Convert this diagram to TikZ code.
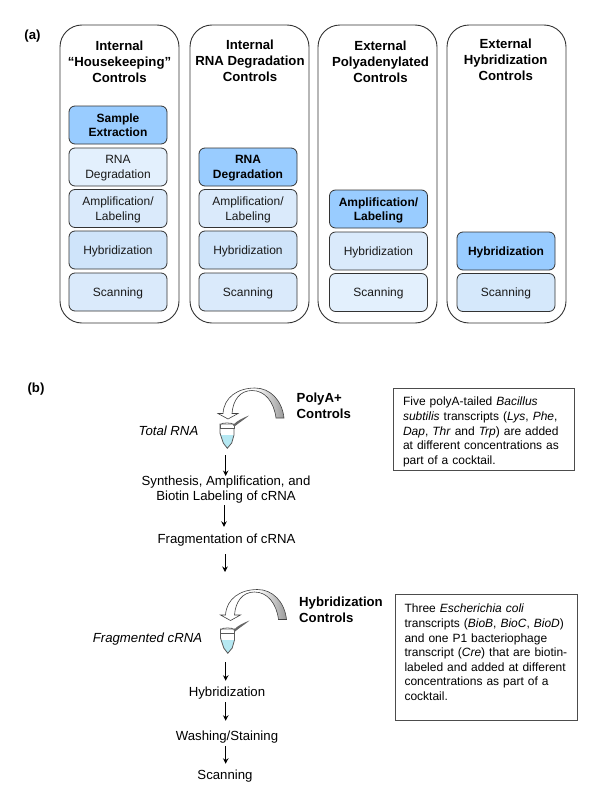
\documentclass[tikz,border=0pt]{standalone}
\usepackage{fontspec}
\setmainfont{Liberation Sans}
\usetikzlibrary{arrows.meta}
\definecolor{edge}{HTML}{333333}
\definecolor{hot}{HTML}{99CCFF}
\definecolor{paleA}{HTML}{E3F0FD}
\definecolor{paleB}{HTML}{DAEAFB}
\definecolor{paleC}{HTML}{CFE4FA}
\definecolor{liquid}{HTML}{B5E8F2}
\newcommand{\notetop}{\rule{0pt}{13.6pt}}
\pgfdeclarehorizontalshading{swooshfade}{100bp}{color(0bp)=(white); color(53bp)=(white); color(75bp)=(black!40); color(100bp)=(black!40)}
\tikzset{
  column/.style={draw=edge,line width=0.9pt,rounded corners=22pt,inner sep=0pt,minimum width=119pt,minimum height=298pt},
  stage/.style={draw=edge,line width=0.8pt,rounded corners=6pt,inner sep=0pt,minimum width=98pt,minimum height=38pt,align=center,text depth=0pt,font=\fontsize{12}{14.6}\selectfont,text=black!90},
  hotstage/.style={stage,fill=hot,font=\fontsize{12}{14.6}\selectfont\bfseries,text=black},
  heading/.style={align=center,inner sep=0pt,font=\fontsize{13.2}{16}\selectfont\bfseries},
  panel/.style={inner sep=0pt,font=\fontsize{13.2}{16}\selectfont\bfseries},
  sidehead/.style={anchor=west,align=left,inner sep=0pt,font=\fontsize{13.2}{15.5}\selectfont\bfseries},
  sample/.style={inner sep=0pt,font=\fontsize{13.2}{16}\selectfont\itshape},
  flowtext/.style={inner sep=0pt,minimum height=16pt,align=center,text depth=0pt,font=\fontsize{13.2}{15}\selectfont},
  note/.style={draw=black!70,line width=0.9pt,inner ysep=0pt,inner xsep=9.5pt,align=left,font=\fontsize{12}{14.6}\selectfont},
  flow/.style={-{Stealth[length=5.5pt,width=5.5pt]},line width=1pt,black},
  tubebox/.style={inner sep=0pt,minimum width=15pt,minimum height=27pt},
  tubeglyph/.pic={
    \fill[liquid] (220.5,435) -- (233.5,435) -- (233.5,436) -- (231.7,443) -- (227.3,448.3) -- (223.3,443) -- (220.5,435) -- cycle;
    \draw[black!65,line width=0.8pt] (220,423.5) -- (220,433) -- (223.3,443) -- (227.3,448.3) -- (231.7,443) -- (234,435) -- (234,423.5);
    \draw[black!65,line width=0.8pt,fill=white] (220,424.5) rectangle (234,428);
    \draw[black!65,line width=0.8pt,fill=white] (220,424.5) .. controls (222,422.5) and (232,422.5) .. (234,424.5);
    \fill[black!60] (233,425) .. controls (238,420) and (243,418) .. (249,415.5) .. controls (245,419) and (240,422) .. (234.5,426.5) -- cycle;
  },
  swoosh/.pic={
    \draw[black!75,line width=0.6pt,shading=swooshfade]
      (223,413.5) .. controls (224,397) and (238,388) .. (255,388)
      .. controls (270,388) and (282,400) .. (284,418)
      -- (276,418)
      .. controls (274,402) and (265,390.5) .. (252,390.5)
      .. controls (240,390.5) and (233,400) .. (232,413.5)
      -- (238,413.5) -- (228,419) -- (218,413.5) -- cycle;
  }
}
\begin{document}
\begin{tikzpicture}[x=1pt,y=-1pt]
\useasboundingbox (0,0) rectangle (600,795);
\node[panel] (labelA) at (32.5,36.5) {(a)};
\node[panel] (labelB) at (36,389) {(b)};
% columns
\node[column] (colA) at (119.5,174) {};
\node[column] (colB) at (249.5,174) {};
\node[column] (colC) at (377.5,174) {};
\node[column] (colD) at (506.5,174) {};
\node[heading] (headA) at (119.5,62) {Internal\\“Housekeeping”\\Controls};
\node[heading] (headB) at (250,61) {Internal\\RNA Degradation\\Controls};
\node[heading] (headC) at (380.5,62) {External\\Polyadenylated\\Controls};
\node[heading] (headD) at (505.7,60) {External\\Hybridization\\Controls};
% column A
\node[hotstage] (a1) at (118,125) {Sample\\Extraction};
\node[stage,fill=paleA] (a2) at (118,167) {RNA\\Degradation};
\node[stage,fill=paleB] (a3) at (118,208.5) {Amplification/\\Labeling};
\node[stage,fill=paleC] (a4) at (118,250) {Hybridization};
\node[stage,fill=paleB] (a5) at (118,292) {Scanning};
% column B
\node[hotstage] (b1) at (248,167) {RNA\\Degradation};
\node[stage,fill=paleB] (b2) at (248,208.5) {Amplification/\\Labeling};
\node[stage,fill=paleC] (b3) at (248,250) {Hybridization};
\node[stage,fill=paleB] (b4) at (248,292) {Scanning};
% column C
\node[hotstage] (c1) at (378.5,209) {Amplification/\\Labeling};
\node[stage,fill=paleB] (c2) at (378.5,251) {Hybridization};
\node[stage,fill=paleA] (c3) at (378.5,292.5) {Scanning};
% column D
\node[hotstage] (d1) at (506,251) {Hybridization};
\node[stage,fill=paleC!70!paleA] (d2) at (506,292.5) {Scanning};
% part b
\pic at (0,0) {swoosh};
\pic at (0,0) {tubeglyph};
\pic at (2.5,201.5) {swoosh};
\pic at (0.5,205) {tubeglyph};
\node[tubebox] (tubeA) at (227,436) {};
\node[tubebox] (tubeB) at (227.5,641) {};
\node[sample] (totalrna) at (168.5,431) {Total RNA};
\node[sample] (fragrna) at (147.5,639) {Fragmented cRNA};
\node[sidehead] (polyA) at (296.5,406) {PolyA+\\Controls};
\node[sidehead] (hybctl) at (299,610) {Hybridization\\Controls};
\node[flowtext] (synth) at (226,488.5) {Synthesis, Amplification, and\\Biotin Labeling of cRNA};
\node[flowtext] (frag) at (226.5,539) {Fragmentation of cRNA};
\node[flowtext] (hyb) at (227,692) {Hybridization};
\node[flowtext] (wash) at (227,736) {Washing/Staining};
\node[flowtext] (scan) at (225,775) {Scanning};
\coordinate (xa) at (225.7,0);
\coordinate (xb) at (224,0);
\coordinate (xc) at (225,0);
\coordinate (fragEnd) at (225,572);
\draw[flow,shorten <=5.5pt] (tubeA.south -| xa) -- (synth.north -| xa);
\draw[flow,shorten <=4.5pt,shorten >=4pt] (synth.south -| xb) -- (frag.north -| xb);
\draw[flow,shorten <=7pt] (frag.south -| xc) -- (fragEnd);
\draw[flow,shorten <=7.5pt,shorten >=3pt] (tubeB.south -| xa) -- (hyb.north -| xa);
\draw[flow,shorten <=2pt,shorten >=7pt] (hyb.south -| xa) -- (wash.north -| xa);
\draw[flow,shorten <=2pt,shorten >=3pt] (wash.south -| xa) -- (scan.north -| xa);
\node[note,text width=162pt,minimum height=82pt] (noteA) at (484,429.5) {\notetop Five polyA-tailed \textit{Bacillus}\\\textit{subtilis} transcripts (\textit{Lys}, \textit{Phe},\\\textit{Dap}, \textit{Thr} and \textit{Trp}) are added\\at different concentrations as\\part of a cocktail.};
\node[note,text width=163pt,minimum height=125.5pt] (noteB) at (486,657.25) {\notetop Three \textit{Escherichia coli}\\transcripts (\textit{BioB}, \textit{BioC}, \textit{BioD})\\and one P1 bacteriophage\\transcript (\textit{Cre}) that are biotin-\\labeled and added at different\\concentrations as part of a\\cocktail.\\~};
\end{tikzpicture}
\end{document}
